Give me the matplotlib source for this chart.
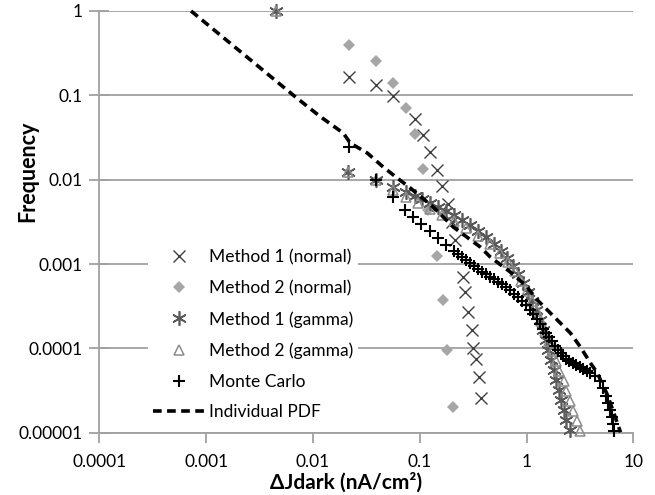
import matplotlib
matplotlib.use("Agg")
import matplotlib.pyplot as plt
from matplotlib.ticker import FixedLocator, FixedFormatter, NullLocator

plt.rcParams['font.family'] = ['Lato', 'DejaVu Sans']

# Method 1 (normal)
m1n_x = [0.0219, 0.0392, 0.0566, 0.091, 0.108, 0.1256, 0.146, 0.163, 0.185, 0.202,
         0.216, 0.257, 0.267, 0.285, 0.310, 0.318, 0.339, 0.361, 0.378]
m1n_y = [0.165, 0.1325, 0.0981, 0.0524, 0.0338, 0.0213, 0.013, 0.0084, 0.00514, 0.00314,
         0.00192, 0.0007, 0.000464, 0.000269, 0.000164, 0.0001, 0.0000745, 0.0000455, 0.0000257]

# Method 2 (normal)
m2n_x = [0.0219, 0.0392, 0.0566, 0.0748, 0.091, 0.108, 0.1205, 0.146, 0.1663, 0.1816, 0.2065]
m2n_y = [0.395, 0.255, 0.14, 0.0707, 0.0347, 0.01336, 0.00436, 0.00124, 0.000373, 0.0000952, 0.0000201]

# Method 1 (gamma)
m1g_x = [0.00453, 0.0214, 0.0392, 0.0566, 0.0749, 0.091, 0.1058, 0.1257, 0.1494, 0.1775,
         0.211, 0.2507, 0.298, 0.3541, 0.4209, 0.5002, 0.5816, 0.6622, 0.7539, 0.8397,
         0.9354, 1.042, 1.136, 1.238, 1.35, 1.44, 1.537, 1.604, 1.712, 1.826,
         1.906, 2.034, 2.125, 2.266, 2.366, 2.533]
m1g_y = [1.0, 0.01231, 0.00989, 0.00817, 0.00713, 0.00639, 0.00589, 0.00528, 0.00473, 0.00424,
         0.0038, 0.00332, 0.00289, 0.002457, 0.002085, 0.001722, 0.001422, 0.001175, 0.000945, 0.000759,
         0.000594, 0.000464, 0.000363, 0.000284, 0.000216, 0.0001644, 0.0001252, 0.0000952, 0.0000725, 0.0000551,
         0.000042, 0.0000319, 0.0000243, 0.0000185, 0.0000141, 0.0000107]

# Method 2 (gamma)
m2g_x = [0.00453, 0.0214, 0.0392, 0.0566, 0.0749, 0.097, 0.1257, 0.1628, 0.211, 0.2735,
         0.3541, 0.4589, 0.5692, 0.6767, 0.787, 0.8957, 1.02, 1.136, 1.265, 1.379,
         1.504, 1.639, 1.749, 1.906, 2.034, 2.227, 2.366, 2.533, 2.716, 2.994, 3.193]
m2g_y = [1.0, 0.01231, 0.00989, 0.00753, 0.00622, 0.00528, 0.00448, 0.0038, 0.00323, 0.002667,
         0.002143, 0.001722, 0.001346, 0.001053, 0.000824, 0.000627, 0.000477, 0.000363, 0.000276, 0.00021,
         0.00016, 0.0001218, 0.0000926, 0.0000705, 0.0000537, 0.0000408, 0.0000311, 0.0000236, 0.000018,
         0.0000137, 0.0000104]

# Monte Carlo
mc_x = [0.0216, 0.0392, 0.0566, 0.0733, 0.0871, 0.1035, 0.1257, 0.1494, 0.1775, 0.211,
        0.230, 0.2507, 0.2735, 0.298, 0.3249, 0.3541, 0.3862, 0.4209, 0.4589, 0.5002,
        0.5454, 0.5944, 0.6481, 0.7065, 0.7701, 0.8397, 0.9155, 0.998, 1.076, 1.161,
        1.252, 1.35, 1.44, 1.537, 1.639, 1.749, 1.866, 1.991, 2.101, 2.218,
        2.366, 2.524, 2.722, 2.936, 3.166, 3.415, 3.682, 3.972, 4.424, 4.926,
        5.256, 5.608, 5.855, 6.114, 6.248, 6.385, 6.524]
mc_y = [0.02436, 0.00989, 0.00622, 0.004358, 0.0036, 0.002974, 0.002457, 0.002029, 0.001676, 0.001422,
        0.00131, 0.001207, 0.001112, 0.001025, 0.000945, 0.00087, 0.000813, 0.000759, 0.000709, 0.000662,
        0.000619, 0.000578, 0.000532, 0.00049, 0.000446, 0.000405, 0.000363, 0.000326, 0.000288, 0.000254,
        0.000222, 0.000194, 0.0001713, 0.0001515, 0.0001358, 0.0001218, 0.0001076, 0.0000952, 0.0000877, 0.0000808,
        0.0000755, 0.0000705, 0.0000668, 0.0000632, 0.0000598, 0.0000567, 0.0000537, 0.0000508, 0.0000468, 0.0000408,
        0.0000337, 0.0000271, 0.0000224, 0.0000185, 0.0000153, 0.0000126, 0.0000104]

# Individual PDF
pdf_x = [0.000723, 0.00683, 0.01171, 0.01923, 0.02236, 0.0323, 0.0456, 0.0617, 0.0817, 0.1341,
         0.2065, 0.3698, 0.4588, 0.7065, 0.9766, 1.265, 1.57, 2.078, 2.58, 3.201,
         3.972, 4.619, 4.926, 5.73, 6.524, 7.59]
pdf_y = [1.0, 0.0962, 0.056, 0.0357, 0.02718, 0.02068, 0.01411, 0.01045, 0.00795, 0.00473,
         0.00274, 0.001587, 0.001207, 0.000802, 0.000562, 0.000373, 0.000284, 0.000199, 0.0001515, 0.0001034,
         0.0000668, 0.0000508, 0.000042, 0.0000279, 0.0000175, 0.0000101]

x_ticks = [0.0001, 0.001, 0.01, 0.1, 1, 10]
x_labels = ['0.0001', '0.001', '0.01', '0.1', '1', '10']
y_ticks = [0.00001, 0.0001, 0.001, 0.01, 0.1, 1]
y_labels = ['0.00001', '0.0001', '0.001', '0.01', '0.1', '1']

fig = plt.figure(figsize=(6.55, 4.95), dpi=100)
ax = fig.add_axes([0.1516, 0.1259, 0.8153, 0.8519])

ax.set_xscale('log')
ax.set_yscale('log')
ax.set_xlim(0.0001, 10)
ax.set_ylim(0.00001, 1)

ax.plot(m1n_x, m1n_y, linestyle='none', marker='x', ms=8.5, mew=1, color='#404040',
        label='Method 1 (normal)', clip_on=False, zorder=3)
ax.plot(m2n_x, m2n_y, linestyle='none', marker='D', ms=6, mew=0, color='#a6a6a6',
        label='Method 2 (normal)', clip_on=False, zorder=3)
ax.plot(m1g_x, m1g_y, linestyle='none', marker=(6, 2, 0), ms=10.5, mew=1.2, color='#595959',
        label='Method 1 (gamma)', clip_on=False, zorder=3)
ax.plot(m2g_x, m2g_y, linestyle='none', marker='^', ms=7.5, mew=1.1, color='#8c8c8c',
        fillstyle='none', label='Method 2 (gamma)', clip_on=False, zorder=3)
ax.plot(mc_x, mc_y, linestyle='none', marker='+', ms=9, mew=1.5, color='black',
        label='Monte Carlo', clip_on=False, zorder=4)
ax.plot(pdf_x, pdf_y, linestyle=(0, (2.4, 1.5)), lw=2.6, color='black',
        label='Individual PDF', clip_on=False, zorder=5)

ax.xaxis.set_major_locator(FixedLocator(x_ticks))
ax.xaxis.set_major_formatter(FixedFormatter(x_labels))
ax.yaxis.set_major_locator(FixedLocator(y_ticks))
ax.yaxis.set_major_formatter(FixedFormatter(y_labels))
ax.xaxis.set_minor_locator(NullLocator())
ax.yaxis.set_minor_locator(NullLocator())

ax.grid(True, axis='y', color='#a0a0a0', lw=1.3, zorder=0)
ax.set_axisbelow(True)
for s in ['top', 'right']:
    ax.spines[s].set_visible(False)
for s in ['left', 'bottom']:
    ax.spines[s].set_color('#a0a0a0')
    ax.spines[s].set_linewidth(1.3)

ax.tick_params(axis='y', direction='inout', length=14, width=1.3, color='#a0a0a0',
               labelsize=12.5, pad=5)
ax.tick_params(axis='x', direction='out', length=7, width=1.3, color='#a0a0a0',
               labelsize=12.5, pad=8)

ax.set_ylabel('Frequency', fontsize=15.5, fontweight='bold')
ax.set_xlabel('ΔJdark (nA/cm²)', fontsize=15, fontweight='bold')
ax.yaxis.set_label_coords(-0.115, 0.62)
ax.xaxis.set_label_coords(0.462, -0.093)

leg = ax.legend(loc='upper left', bbox_to_anchor=(0.075, 0.468), frameon=True,
                fontsize=12.5, labelspacing=0.85, handlelength=3, handletextpad=0.2,
                borderpad=0.3, fancybox=False)
leg.get_frame().set_edgecolor('none')
leg.get_frame().set_facecolor('white')
leg.get_frame().set_alpha(1)
leg.set_zorder(2)

plt.savefig('out.png', dpi=100)
